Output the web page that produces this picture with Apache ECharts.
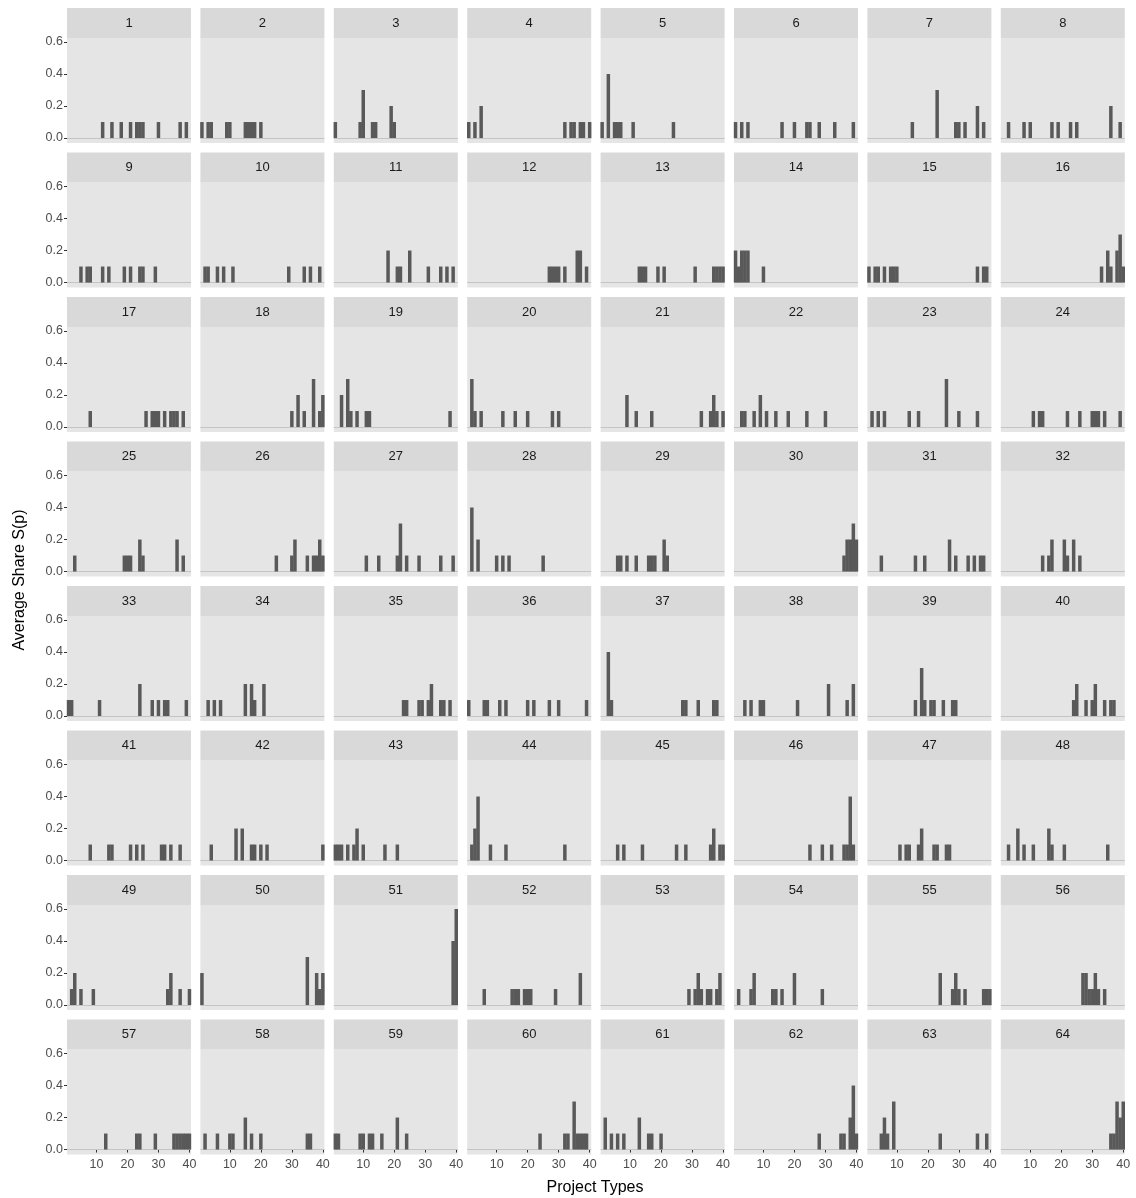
<!DOCTYPE html>
<html>
<head>
<meta charset="UTF-8">
<title>Average Share by Project Type</title>
<script src="https://cdn.jsdelivr.net/npm/echarts@6/dist/echarts.min.js"></script>
<style>
  html, body { margin: 0; padding: 0; background: #fff; }
  #main { width: 1136px; height: 1198px; }
</style>
</head>
<body>
<div id="main"></div>
<script>
// facet labels 1..64, x = project type (1..40), y = average share
const panelIds = Array.from({length: 64}, (_, i) => i + 1);
const xTicks = [10, 20, 30, 40];
const yTicks = [0, 0.2, 0.4, 0.6];

// [project type, share] per panel, zero shares left out
const shares = [
  [[12,.1],[15,.1],[18,.1],[21,.1],[23,.1],[24,.1],[25,.1],[30,.1],[37,.1],[39,.1]],
  [[1,.1],[3,.1],[4,.1],[9,.1],[10,.1],[15,.1],[16,.1],[17,.1],[18,.1],[20,.1]],
  [[1,.1],[9,.1],[10,.3],[13,.1],[14,.1],[19,.2],[20,.1]],
  [[1,.1],[3,.1],[5,.2],[32,.1],[34,.1],[35,.1],[37,.1],[38,.1],[40,.1]],
  [[1,.1],[3,.4],[5,.1],[6,.1],[7,.1],[11,.1],[24,.1]],
  [[1,.1],[3,.1],[5,.1],[16,.1],[20,.1],[24,.1],[25,.1],[28,.1],[33,.1],[39,.1]],
  [[15,.1],[23,.3],[29,.1],[30,.1],[32,.1],[36,.2],[38,.1]],
  [[3,.1],[8,.1],[10,.1],[17,.1],[19,.1],[23,.1],[25,.1],[36,.2],[39,.1]],
  [[5,.1],[7,.1],[8,.1],[12,.1],[14,.1],[19,.1],[21,.1],[24,.1],[25,.1],[29,.1]],
  [[2,.1],[3,.1],[6,.1],[8,.1],[11,.1],[29,.1],[34,.1],[36,.1],[39,.1]],
  [[18,.2],[21,.1],[22,.1],[25,.2],[31,.1],[35,.1],[37,.1],[39,.1]],
  [[27,.1],[28,.1],[29,.1],[30,.1],[32,.1],[36,.2],[37,.2],[39,.1]],
  [[13,.1],[14,.1],[15,.1],[19,.1],[21,.1],[31,.1],[37,.1],[38,.1],[39,.1],[40,.1]],
  [[1,.2],[2,.1],[3,.2],[4,.2],[5,.2],[10,.1]],
  [[1,.1],[3,.1],[4,.1],[6,.1],[8,.1],[9,.1],[10,.1],[36,.1],[38,.1],[39,.1]],
  [[33,.1],[35,.2],[36,.1],[38,.2],[39,.3],[40,.1]],
  [[8,.1],[26,.1],[28,.1],[29,.1],[30,.1],[32,.1],[34,.1],[35,.1],[36,.1],[38,.1]],
  [[30,.1],[32,.2],[34,.1],[37,.3],[39,.1],[40,.2]],
  [[3,.2],[5,.3],[6,.1],[8,.1],[11,.1],[12,.1],[38,.1]],
  [[2,.3],[3,.1],[5,.1],[12,.1],[16,.1],[20,.1],[28,.1],[30,.1]],
  [[9,.2],[12,.1],[17,.1],[33,.1],[36,.1],[37,.2],[38,.1],[40,.1]],
  [[3,.1],[4,.1],[7,.1],[9,.2],[11,.1],[14,.1],[18,.1],[24,.1],[30,.1]],
  [[2,.1],[4,.1],[6,.1],[14,.1],[17,.1],[26,.3],[30,.1],[36,.1]],
  [[11,.1],[13,.1],[14,.1],[22,.1],[26,.1],[30,.1],[31,.1],[32,.1],[34,.1],[39,.1]],
  [[3,.1],[19,.1],[20,.1],[21,.1],[24,.2],[25,.1],[36,.2],[38,.1]],
  [[25,.1],[30,.1],[31,.2],[35,.1],[37,.1],[38,.1],[39,.2],[40,.1]],
  [[11,.1],[15,.1],[21,.1],[22,.3],[24,.1],[28,.1],[35,.1],[39,.1]],
  [[2,.4],[4,.2],[10,.1],[12,.1],[14,.1],[25,.1]],
  [[6,.1],[7,.1],[9,.1],[12,.1],[16,.1],[17,.1],[18,.1],[21,.2],[22,.1]],
  [[36,.1],[37,.2],[38,.2],[39,.3],[40,.2]],
  [[5,.1],[16,.1],[19,.1],[27,.2],[29,.1],[33,.1],[35,.1],[37,.1],[38,.1]],
  [[14,.1],[16,.1],[17,.2],[21,.2],[22,.1],[24,.2],[26,.1]],
  [[1,.1],[2,.1],[11,.1],[24,.2],[28,.1],[30,.1],[32,.1],[33,.1],[39,.1]],
  [[3,.1],[5,.1],[7,.1],[15,.2],[17,.2],[18,.1],[21,.2]],
  [[23,.1],[24,.1],[28,.1],[29,.1],[31,.1],[32,.2],[35,.1],[36,.1],[38,.1]],
  [[1,.1],[6,.1],[7,.1],[11,.1],[13,.1],[20,.1],[22,.1],[27,.1],[30,.1],[39,.1]],
  [[3,.4],[4,.1],[27,.1],[28,.1],[32,.1],[37,.1],[38,.1]],
  [[4,.1],[6,.1],[9,.1],[10,.1],[21,.1],[31,.2],[37,.1],[39,.2]],
  [[16,.1],[18,.3],[19,.1],[21,.1],[22,.1],[25,.1],[28,.1],[29,.1]],
  [[24,.1],[25,.2],[28,.1],[30,.1],[31,.2],[34,.1],[36,.1],[37,.1]],
  [[8,.1],[14,.1],[15,.1],[21,.1],[23,.1],[25,.1],[31,.1],[32,.1],[34,.1],[37,.1]],
  [[4,.1],[12,.2],[14,.2],[17,.1],[18,.1],[20,.1],[22,.1],[40,.1]],
  [[1,.1],[2,.1],[3,.1],[5,.1],[7,.1],[8,.2],[10,.1],[17,.1],[21,.1]],
  [[2,.1],[3,.2],[4,.4],[8,.1],[13,.1],[32,.1]],
  [[6,.1],[8,.1],[14,.1],[25,.1],[28,.1],[36,.1],[37,.2],[39,.1],[40,.1]],
  [[25,.1],[29,.1],[32,.1],[36,.1],[37,.1],[38,.4],[39,.1]],
  [[11,.1],[13,.1],[14,.1],[17,.1],[18,.2],[22,.1],[23,.1],[26,.1],[27,.1]],
  [[3,.1],[6,.2],[8,.1],[11,.1],[16,.2],[17,.1],[21,.1],[35,.1]],
  [[2,.1],[3,.2],[5,.1],[9,.1],[33,.1],[34,.2],[37,.1],[40,.1]],
  [[1,.2],[35,.3],[38,.2],[39,.1],[40,.2]],
  [[39,.4],[40,.6]],
  [[6,.1],[15,.1],[16,.1],[17,.1],[19,.1],[20,.1],[21,.1],[29,.1],[37,.2]],
  [[29,.1],[31,.1],[32,.2],[33,.1],[35,.1],[36,.1],[38,.1],[39,.2]],
  [[2,.1],[6,.1],[7,.2],[13,.1],[14,.1],[16,.1],[20,.2],[29,.1]],
  [[24,.2],[28,.1],[29,.2],[30,.1],[32,.1],[38,.1],[39,.1],[40,.1]],
  [[27,.2],[28,.2],[29,.1],[30,.1],[31,.2],[32,.1],[34,.1]],
  [[13,.1],[23,.1],[24,.1],[29,.1],[35,.1],[36,.1],[37,.1],[38,.1],[39,.1],[40,.1]],
  [[2,.1],[6,.1],[10,.1],[11,.1],[15,.2],[17,.1],[20,.1],[35,.1],[36,.1]],
  [[1,.1],[2,.1],[9,.1],[10,.1],[12,.1],[13,.1],[16,.1],[21,.2],[24,.1]],
  [[24,.1],[32,.1],[33,.1],[35,.3],[36,.1],[37,.1],[38,.1],[39,.1]],
  [[2,.2],[4,.1],[6,.1],[8,.1],[13,.2],[16,.1],[17,.1],[20,.1]],
  [[28,.1],[35,.1],[36,.1],[38,.2],[39,.4],[40,.1]],
  [[5,.1],[6,.2],[7,.1],[9,.3],[24,.1],[36,.1],[39,.1]],
  [[36,.1],[37,.1],[38,.3],[39,.2],[40,.3]]
];

const chart = echarts.init(document.getElementById('main'));

const left0 = 67, top0 = 8, colStep = 133.4, rowStep = 144.5;
const panelW = 124, stripH = 30, plotH = 105;

let grid = [], xAxis = [], yAxis = [], series = [], graphic = [];

panelIds.forEach((id, i) => {
  const r = Math.floor(i / 8), c = i % 8;
  const x = left0 + c * colStep, y = top0 + r * rowStep;

  graphic.push({type: 'rect', left: x, top: y, shape: {width: panelW, height: stripH},
    style: {fill: '#d9d9d9'}, silent: true});
  graphic.push({type: 'text', x: x + panelW / 2, y: y + stripH / 2,
    style: {text: String(id), fill: '#1a1a1a', font: '13px Liberation Sans, Arial',
      align: 'center', verticalAlign: 'middle'}, silent: true});

  grid.push({left: x, top: y + stripH, width: panelW, height: plotH,
    show: true, backgroundColor: '#e5e5e5', borderWidth: 0});

  xAxis.push({
    type: 'value', gridIndex: i, min: 0.5, max: 40.5,
    axisLine: {show: false}, splitLine: {show: false},
    axisTick: {show: r === 7, customValues: xTicks, length: 3, lineStyle: {color: '#333'}},
    axisLabel: {show: r === 7, customValues: xTicks, color: '#4d4d4d', fontSize: 12.5,
      fontFamily: 'Liberation Sans', margin: 4}
  });
  yAxis.push({
    type: 'value', gridIndex: i, min: -0.031, max: 0.625,
    axisLine: {show: false}, splitLine: {show: false},
    axisTick: {show: c === 0, customValues: yTicks, length: 3, lineStyle: {color: '#333'}},
    axisLabel: {show: c === 0, customValues: yTicks, color: '#4d4d4d', fontSize: 12.5,
      fontFamily: 'Liberation Sans', margin: 4, formatter: v => v.toFixed(1)}
  });

  series.push({
    type: 'bar', xAxisIndex: i, yAxisIndex: i, data: shares[i],
    barWidth: 3.5, itemStyle: {color: '#595959'}, silent: true,
    markLine: {silent: true, symbol: 'none', label: {show: false},
      lineStyle: {color: '#c4c4c4', type: 'solid', width: 1},
      data: [{yAxis: 0}], z: 1}
  });
});

graphic.push({type: 'text', x: 595, y: 1188,
  style: {text: 'Project Types', fill: '#000', font: '16px Liberation Sans, Arial',
    align: 'center', verticalAlign: 'middle'}});
graphic.push({type: 'text', x: 20, y: 580, rotation: Math.PI / 2,
  style: {text: 'Average Share S(p)', fill: '#000', font: '16px Liberation Sans, Arial',
    align: 'center', verticalAlign: 'middle'}});

chart.setOption({animation: false, grid, xAxis, yAxis, series, graphic});
</script>
</body>
</html>
